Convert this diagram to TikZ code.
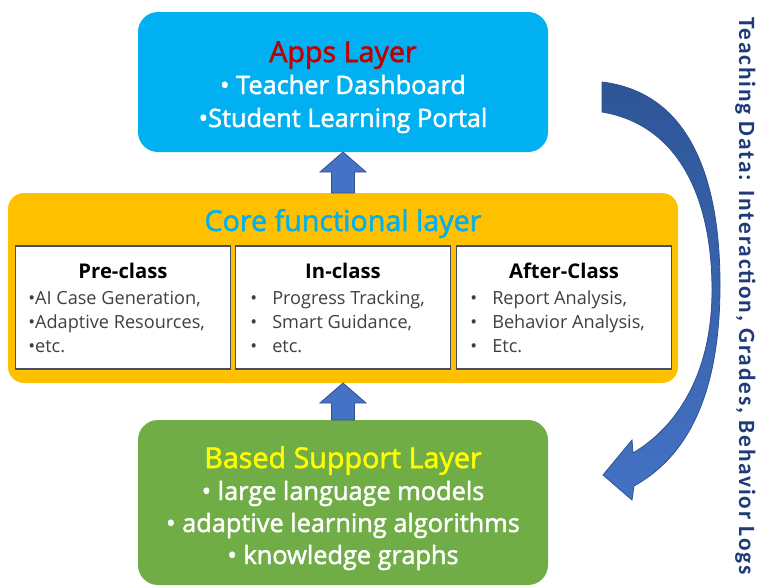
\documentclass[tikz,border=0pt]{standalone}
\usepackage{fontspec}
\setmainfont{Open Sans}
\newfontfamily\medfont[FakeBold=1.8]{Open Sans}
\newfontfamily\sidefont[LetterSpace=8]{Carlito}
\usetikzlibrary{calc}

\definecolor{appsblue}{HTML}{00B0F0}
\definecolor{appsred}{HTML}{C00000}
\definecolor{coregold}{HTML}{FFC000}
\definecolor{coretitle}{HTML}{00B0F0}
\definecolor{cellborder}{HTML}{44506A}
\definecolor{celltext}{HTML}{404040}
\definecolor{supgreen}{HTML}{70AD47}
\definecolor{supyellow}{HTML}{FFFF00}
\definecolor{arrowblue}{HTML}{4472C4}
\definecolor{arrowedge}{HTML}{2F528F}
\definecolor{arrowdark}{HTML}{2E5597}
\definecolor{sidenavy}{HTML}{1F3A78}

\begin{document}
\begin{tikzpicture}[
  x=0.75pt, y=-0.75pt,
  layerbox/.style={rectangle, inner sep=0pt, outer sep=0pt},
  cellbox/.style={rectangle, draw=cellborder, line width=1.1pt, fill=white,
    inner sep=0pt, outer sep=0pt,
    minimum width=215*0.75pt, minimum height=123*0.75pt},
  layertitle/.style={anchor=base, inner sep=0pt, font=\medfont\fontsize{21.5}{26}\selectfont},
  layeritem/.style={anchor=base, inner sep=0pt, text=white, font=\medfont\fontsize{19}{23}\selectfont},
  celltitle/.style={anchor=base, inner sep=0pt, text=black, font=\bfseries\fontsize{15.2}{18}\selectfont},
  cellitem/.style={anchor=base west, inner sep=0pt, text=celltext, font=\fontsize{13.6}{16}\selectfont},
  uparrow/.style={fill=arrowblue, draw=arrowedge, line width=0.6pt, line join=miter},
  curvearrow/.style={draw=arrowedge, line width=0.6pt, top color=arrowdark, bottom color=arrowblue},
]
\useasboundingbox (0,0) rectangle (759,586);

% ---------- layer boxes ----------
\node[layerbox, fill=appsblue, rounded corners=15pt,
      minimum width=410*0.75pt, minimum height=140*0.75pt] (apps) at (343,82) {};
\node[layerbox, fill=coregold, rounded corners=12pt,
      minimum width=670*0.75pt, minimum height=190*0.75pt] (core) at (343,288) {};
\node[layerbox, fill=supgreen, rounded corners=15pt,
      minimum width=410*0.75pt, minimum height=165*0.75pt] (base) at (343,502.5) {};

% ---------- block arrows between layers ----------
\draw[uparrow] (apps.south) -- ++(23,20) -- ++(-11.5,0)
  -- ($(core.north)+(11.5,0)$) -- ($(core.north)+(-11.5,0)$)
  -- ++(0,-21) -- ++(-11.5,0) -- cycle;
\draw[uparrow] (core.south) -- ++(23,20) -- ++(-11.5,0)
  -- ($(base.north)+(11.5,0)$) -- ($(base.north)+(-11.5,0)$)
  -- ++(0,-17) -- ++(-11.5,0) -- cycle;

% ---------- apps layer ----------
\node[layertitle, text=appsred] (appstitle) at (343,62) {Apps Layer};
\node[layeritem] (appsa) at (343,94) {• Teacher Dashboard};
\node[layeritem] (appsb) at (343,127) {•Student Learning Portal};

% ---------- core functional layer ----------
\node[layertitle, text=coretitle] (coretitle) at (343,231) {Core functional layer};

\node[cellbox] (pre) at (123,307.5) {};
\node[cellbox] (in) at (343,307.5) {};
\node[cellbox] (after) at (564,307.5) {};

\node[celltitle] (pretitle) at (123,278) {Pre-class};
\node[celltitle] (intitle) at (343,278) {In-class};
\node[celltitle] (aftertitle) at (564,278) {After-Class};

\node[cellitem] (prea) at (28,304) {•AI Case Generation,};
\node[cellitem] (preb) at (28,328) {•Adaptive Resources,};
\node[cellitem] (prec) at (28,352) {•etc.};

\node[cellitem] (ina) at (250,304) {\makebox[16.5pt][l]{•}Progress Tracking,};
\node[cellitem] (inb) at (250,328) {\makebox[16.5pt][l]{•}Smart Guidance,};
\node[cellitem] (inc) at (250,352) {\makebox[16.5pt][l]{•}etc.};

\node[cellitem] (aftera) at (470,304) {\makebox[16.5pt][l]{•}Report Analysis,};
\node[cellitem] (afterb) at (470,328) {\makebox[16.5pt][l]{•}Behavior Analysis,};
\node[cellitem] (afterc) at (470,352) {\makebox[16.5pt][l]{•}Etc.};

% ---------- based support layer ----------
\node[layertitle, text=supyellow] (basetitle) at (343,468) {Based Support Layer};
\node[layeritem] (basea) at (343,500) {• large language models};
\node[layeritem] (baseb) at (343,532) {• adaptive learning algorithms};
\node[layeritem] (basec) at (343,564) {• knowledge graphs};

% ---------- feedback arrow on the right ----------
\path[curvearrow] (602,82) .. controls (685,92) and (720,170) .. (720,285)
  .. controls (720,390) and (690,455) .. (634,486)
  -- (632,500) -- (603,475) -- (632,440) -- (633,453)
  .. controls (680,425) and (712,370) .. (712,290)
  .. controls (712,200) and (680,125) .. (602,112) -- cycle;

\node[rotate=-90, anchor=base, inner sep=0pt, text=sidenavy,
      font=\sidefont\bfseries\fontsize{17.5}{20}\selectfont] (sidetext) at (739,296)
  {Teaching Data: Interaction, Grades, Behavior Logs};
\end{tikzpicture}
\end{document}
